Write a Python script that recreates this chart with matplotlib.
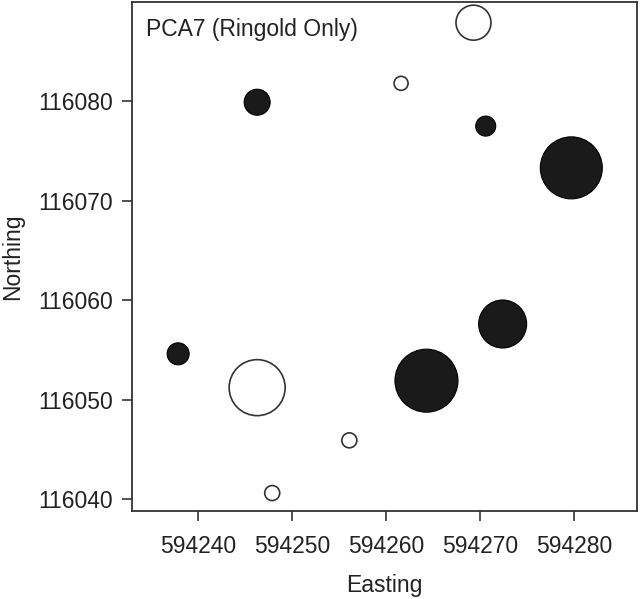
import matplotlib
matplotlib.use("Agg")
import matplotlib.pyplot as plt
import numpy as np

easting = [594246.3, 594269.3, 594261.6, 594270.6, 594279.7, 594272.4,
           594264.3, 594256.1, 594237.9, 594246.3, 594247.9]
northing = [116079.9, 116087.9, 116081.8, 116077.5, 116073.3, 116057.6,
            116051.9, 116045.9, 116054.6, 116051.2, 116040.6]
score = [2.6, -3.5, -1.4, 2.0, 6.2, 4.8, 6.3, -1.5, 2.2, -5.6, -1.5]

xticks = [594240, 594250, 594260, 594270, 594280]
yticks = [116040, 116050, 116060, 116070, 116080]

plt.rcParams['font.family'] = ['Liberation Sans', 'DejaVu Sans']

fig = plt.figure(figsize=(6.41, 5.99), dpi=100)
ax = fig.add_axes([0.206, 0.147, 0.788, 0.850])

score = np.array(score)
diam_pt = np.abs(score) * 10 * 0.72
sizes = diam_pt ** 2
pos = score > 0
ax.scatter(np.array(easting)[pos], np.array(northing)[pos], s=sizes[pos],
           facecolor='#1a1a1a', edgecolor='#000000', linewidths=0.8, zorder=3)
ax.scatter(np.array(easting)[~pos], np.array(northing)[~pos], s=sizes[~pos],
           facecolor='white', edgecolor='#333333', linewidths=1.2, zorder=3)

ax.set_xlim(594233.0, 594286.7)
ax.set_ylim(116038.8, 116090.0)
ax.set_xticks(xticks)
ax.set_yticks(yticks)
ax.set_xticklabels([str(t) for t in xticks])
ax.set_yticklabels([str(t) for t in yticks])
fs = 16.5
ax.tick_params(axis='x', direction='out', length=7, width=1.2, pad=10,
               labelsize=fs, colors='#333333', labelcolor='#222222')
ax.tick_params(axis='y', direction='out', length=7, width=1.2, pad=7,
               labelsize=fs, colors='#333333', labelcolor='#222222')
for sp in ax.spines.values():
    sp.set_linewidth(1.3)
    sp.set_color('#333333')

ax.set_xlabel('Easting', fontsize=fs, color='#222222', labelpad=12)
ax.set_ylabel('Northing', fontsize=fs, color='#222222', labelpad=10)
ax.text(0.028, 0.945, 'PCA7 (Ringold Only)', transform=ax.transAxes,
        fontsize=fs, color='#222222', va='center', ha='left')

fig.savefig('out.png', dpi=100)
